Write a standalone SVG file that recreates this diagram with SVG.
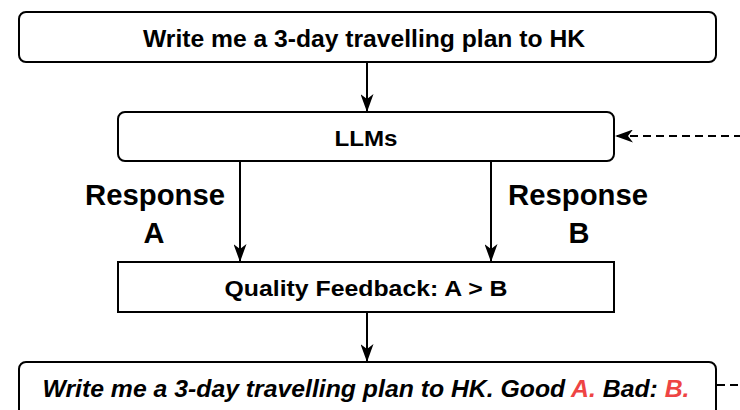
<svg xmlns="http://www.w3.org/2000/svg" width="740" height="410" viewBox="0 0 740 410">
<defs>
<marker id="ah" viewBox="0 0 18 13" refX="17" refY="6.5" markerWidth="18" markerHeight="13" markerUnits="userSpaceOnUse" orient="auto">
<path d="M0,0 L18,6.5 L0,13 L5,6.5 Z" fill="#000"/>
</marker>
<style>
.box{fill:#fff;stroke:#000;stroke-width:2}
.t{font-family:"Liberation Sans",Arial,sans-serif;font-weight:bold;text-anchor:middle;fill:#000}
.c{stroke:#000;stroke-width:2;fill:none}
.red{fill:#ee4444}
</style>
</defs>
<rect width="740" height="410" fill="#fff"/>
<g id="prompt">
<rect class="box" x="19" y="12" width="697" height="50" rx="7"/>
<text class="t" x="364" y="47" font-size="24" textLength="442" lengthAdjust="spacingAndGlyphs">Write me a 3-day travelling plan to HK</text>
</g>
<g id="llms">
<rect class="box" x="118" y="112" width="496" height="49" rx="7"/>
<text class="t" x="366" y="146" font-size="22" textLength="63" lengthAdjust="spacingAndGlyphs">LLMs</text>
</g>
<g id="feedback">
<rect class="box" x="118" y="262" width="496" height="50"/>
<text class="t" x="366" y="296" font-size="22" textLength="283" lengthAdjust="spacingAndGlyphs">Quality Feedback: A &gt; B</text>
</g>
<g id="result">
<rect class="box" x="19" y="362" width="697" height="60" rx="7"/>
<text class="t" x="366" y="397" font-size="23" font-style="italic" textLength="647" lengthAdjust="spacingAndGlyphs">Write me a 3-day travelling plan to HK. Good <tspan class="red">A.</tspan> Bad: <tspan class="red">B.</tspan></text>
</g>
<g id="labels">
<text class="t" x="155" y="205" font-size="29" textLength="140" lengthAdjust="spacingAndGlyphs">Response</text>
<text class="t" x="154" y="243" font-size="29">A</text>
<text class="t" x="578" y="205" font-size="29" textLength="140" lengthAdjust="spacingAndGlyphs">Response</text>
<text class="t" x="579" y="243" font-size="29">B</text>
</g>
<g id="connectors">
<line class="c" x1="367" y1="62" x2="367" y2="111" marker-end="url(#ah)"/>
<line class="c" x1="240" y1="161" x2="240" y2="261" marker-end="url(#ah)"/>
<line class="c" x1="491" y1="161" x2="491" y2="261" marker-end="url(#ah)"/>
<line class="c" x1="367" y1="312" x2="367" y2="361" marker-end="url(#ah)"/>
<line class="c" x1="742" y1="136" x2="616" y2="136" stroke-dasharray="8,5" stroke-width="2.5" marker-end="url(#ah)"/>
<line class="c" x1="717" y1="385" x2="742" y2="385" stroke-dasharray="8,5" stroke-width="2"/>
</g>
</svg>
